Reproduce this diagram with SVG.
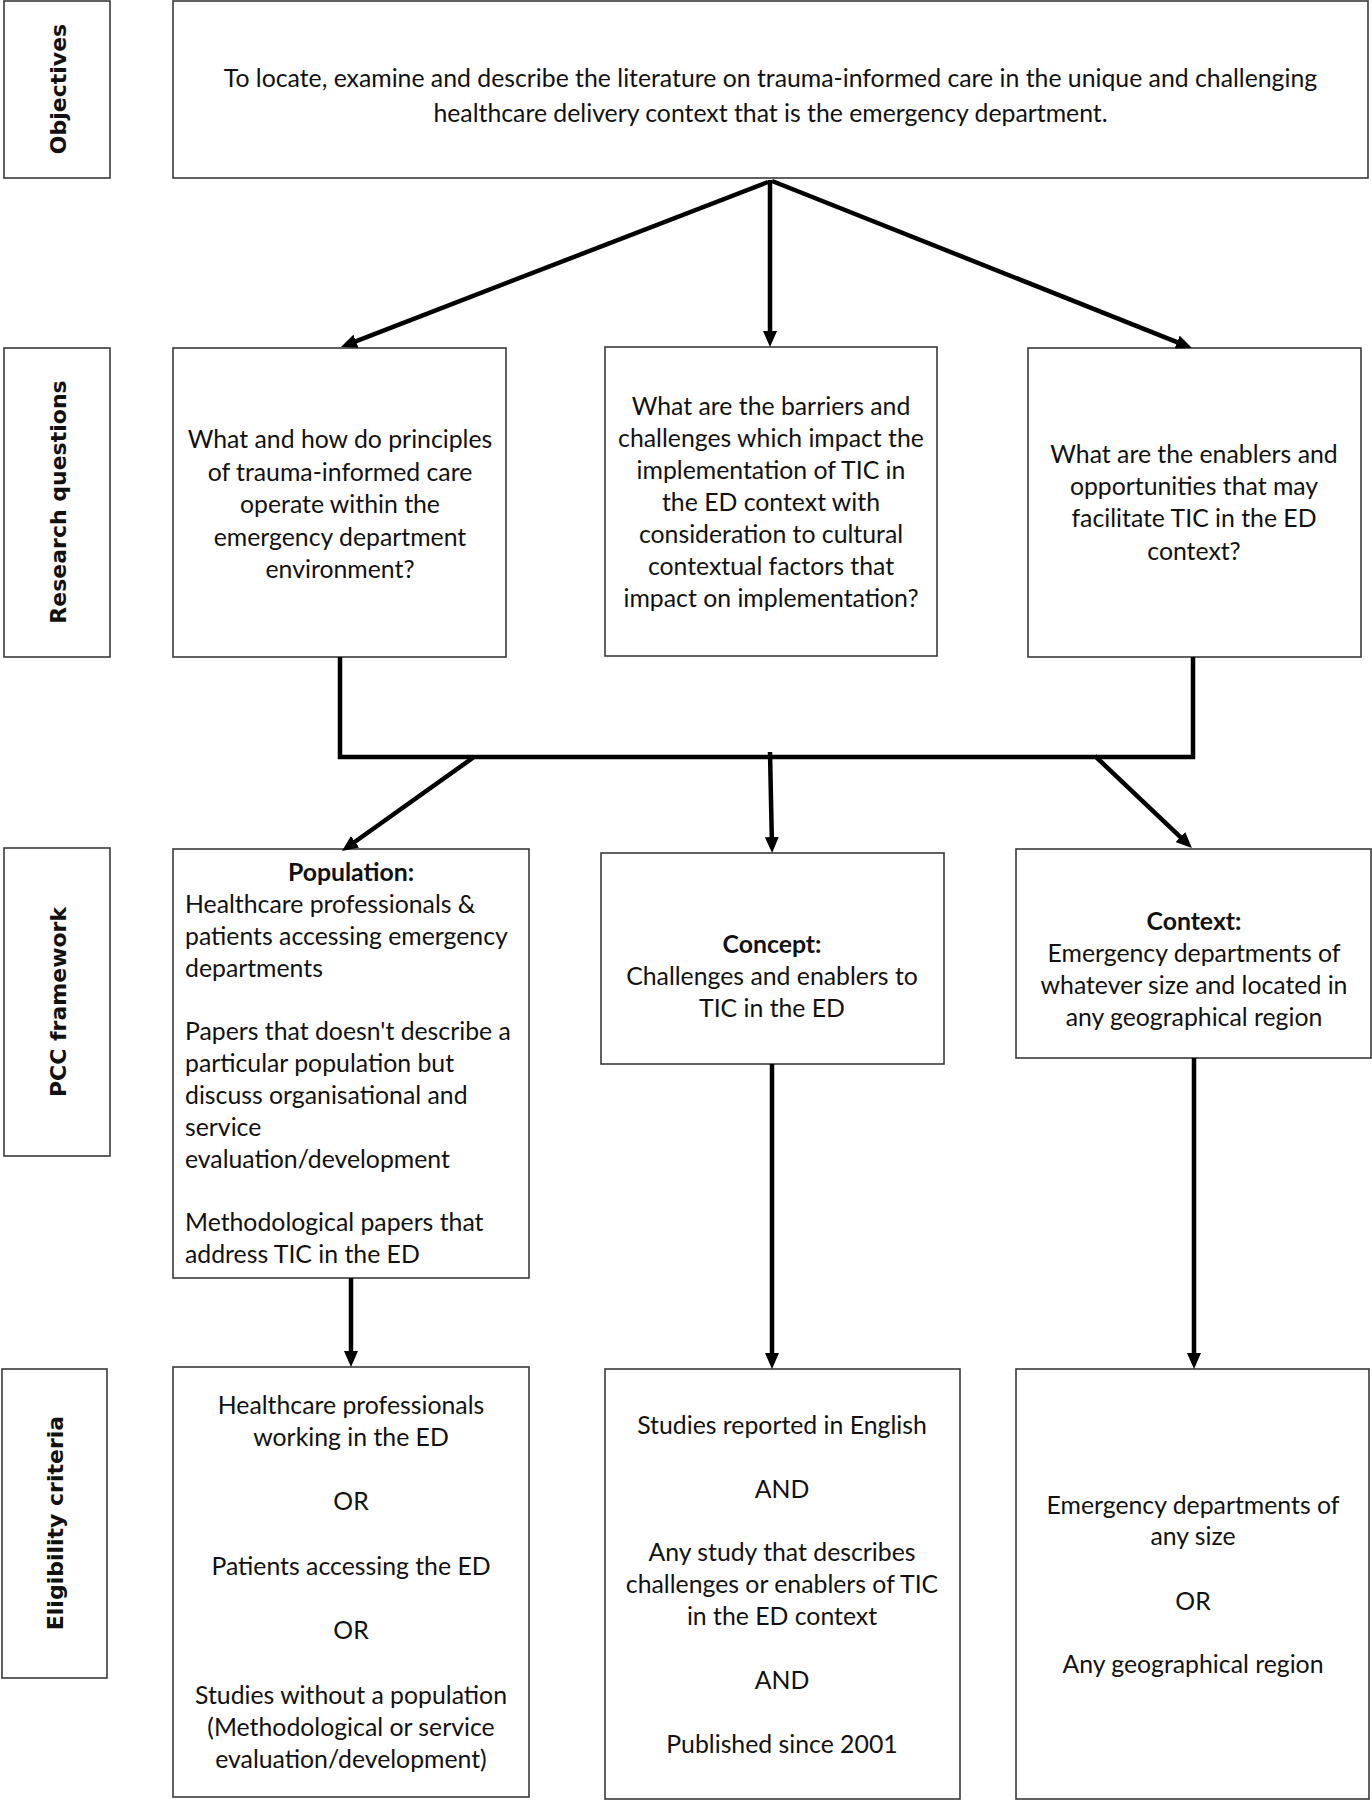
<svg xmlns="http://www.w3.org/2000/svg" width="1372" height="1800" viewBox="0 0 1372 1800">
<style>
.box{fill:#fff;stroke:#3a3a3a;stroke-width:1.6}
.t{font-family:Lato,"Open Sans","Liberation Sans",sans-serif;font-size:24.8px;fill:#111;text-anchor:middle}
.l{text-anchor:start}
.b{font-weight:bold}
.lab{font-family:"DejaVu Sans","Liberation Sans",sans-serif;font-weight:bold;font-size:22px;fill:#111;text-anchor:middle}
.c{fill:none;stroke:#000;stroke-width:4.5}
</style>
<defs>
<marker id="ah" markerUnits="userSpaceOnUse" markerWidth="16" markerHeight="14" refX="10" refY="7" orient="auto">
<path d="M0,0 L16,7 L0,14 z" fill="#000"/>
</marker>
</defs>
<rect width="1372" height="1800" fill="#fff"/>

<g id="label-objectives">
<rect class="box" x="4" y="1" width="106" height="177"/>
<text class="lab" transform="translate(66,89) rotate(-90)">Objectives</text>
</g>
<g id="label-research">
<rect class="box" x="4" y="348" width="106" height="309"/>
<text class="lab" transform="translate(66,502) rotate(-90)">Research questions</text>
</g>
<g id="label-pcc">
<rect class="box" x="4" y="848" width="106" height="308"/>
<text class="lab" transform="translate(66,1002) rotate(-90)">PCC framework</text>
</g>
<g id="label-eligibility">
<rect class="box" x="2" y="1369" width="105" height="309"/>
<text class="lab" transform="translate(63,1523) rotate(-90)">Eligibility criteria</text>
</g>

<g id="objective">
<rect class="box" x="173" y="1" width="1195" height="177"/>
<text class="t" x="770.5" y="87">To locate, examine and describe the literature on trauma-informed care in the unique and challenging</text>
<text class="t" x="770.5" y="122">healthcare delivery context that is the emergency department.</text>
</g>

<g id="rq1">
<rect class="box" x="173" y="348" width="333" height="309"/>
<text class="t" x="340" y="448">What and how do principles</text>
<text class="t" x="340" y="481">of trauma-informed care</text>
<text class="t" x="340" y="513">operate within the</text>
<text class="t" x="340" y="546">emergency department</text>
<text class="t" x="340" y="578">environment?</text>
</g>
<g id="rq2">
<rect class="box" x="605" y="347" width="332" height="309"/>
<text class="t" x="771" y="415">What are the barriers and</text>
<text class="t" x="771" y="447">challenges which impact the</text>
<text class="t" x="771" y="479">implementation of TIC in</text>
<text class="t" x="771" y="511">the ED context with</text>
<text class="t" x="771" y="543">consideration to cultural</text>
<text class="t" x="771" y="575">contextual factors that</text>
<text class="t" x="771" y="607">impact on implementation?</text>
</g>
<g id="rq3">
<rect class="box" x="1028" y="348" width="333" height="309"/>
<text class="t" x="1194" y="463">What are the enablers and</text>
<text class="t" x="1194" y="495">opportunities that may</text>
<text class="t" x="1194" y="527">facilitate TIC in the ED</text>
<text class="t" x="1194" y="560">context?</text>
</g>

<g id="pcc-population">
<rect class="box" x="173" y="849" width="356" height="429"/>
<text class="t b" x="351" y="881">Population:</text>
<text class="t l" x="185" y="913">Healthcare professionals &amp;</text>
<text class="t l" x="185" y="945">patients accessing emergency</text>
<text class="t l" x="185" y="977">departments</text>
<text class="t l" x="185" y="1040">Papers that doesn't describe a</text>
<text class="t l" x="185" y="1072">particular population but</text>
<text class="t l" x="185" y="1104">discuss organisational and</text>
<text class="t l" x="185" y="1136">service</text>
<text class="t l" x="185" y="1168">evaluation/development</text>
<text class="t l" x="185" y="1231">Methodological papers that</text>
<text class="t l" x="185" y="1263">address TIC in the ED</text>
</g>
<g id="pcc-concept">
<rect class="box" x="601" y="853" width="343" height="211"/>
<text class="t b" x="772" y="953">Concept:</text>
<text class="t" x="772" y="985">Challenges and enablers to</text>
<text class="t" x="772" y="1017">TIC in the ED</text>
</g>
<g id="pcc-context">
<rect class="box" x="1016" y="849" width="355" height="209"/>
<text class="t b" x="1194" y="930">Context:</text>
<text class="t" x="1194" y="962">Emergency departments of</text>
<text class="t" x="1194" y="994">whatever size and located in</text>
<text class="t" x="1194" y="1026">any geographical region</text>
</g>

<g id="elig-population">
<rect class="box" x="173" y="1367" width="356" height="430"/>
<text class="t" x="351" y="1414">Healthcare professionals</text>
<text class="t" x="351" y="1446">working in the ED</text>
<text class="t" x="351" y="1510">OR</text>
<text class="t" x="351" y="1575">Patients accessing the ED</text>
<text class="t" x="351" y="1639">OR</text>
<text class="t" x="351" y="1704">Studies without a population</text>
<text class="t" x="351" y="1736">(Methodological or service</text>
<text class="t" x="351" y="1768">evaluation/development)</text>
</g>
<g id="elig-concept">
<rect class="box" x="605" y="1369" width="355" height="430"/>
<text class="t" x="782" y="1434">Studies reported in English</text>
<text class="t" x="782" y="1498">AND</text>
<text class="t" x="782" y="1561">Any study that describes</text>
<text class="t" x="782" y="1593">challenges or enablers of TIC</text>
<text class="t" x="782" y="1625">in the ED context</text>
<text class="t" x="782" y="1689">AND</text>
<text class="t" x="782" y="1753">Published since 2001</text>
</g>
<g id="elig-context">
<rect class="box" x="1016" y="1369" width="353" height="430"/>
<text class="t" x="1193" y="1514">Emergency departments of</text>
<text class="t" x="1193" y="1545">any size</text>
<text class="t" x="1193" y="1610">OR</text>
<text class="t" x="1193" y="1673">Any geographical region</text>
</g>

<g id="connectors">
<line class="c" x1="768" y1="182" x2="346.6" y2="344.8" marker-end="url(#ah)"/>
<line class="c" x1="770" y1="180" x2="770" y2="341" marker-end="url(#ah)"/>
<line class="c" x1="772" y1="181" x2="1186.4" y2="345.8" marker-end="url(#ah)"/>
<polyline class="c" points="340,657 340,757 1193,757 1193,657"/>
<line class="c" x1="474" y1="757" x2="346.9" y2="847.5" marker-end="url(#ah)"/>
<line class="c" x1="770" y1="752" x2="772" y2="847" marker-end="url(#ah)"/>
<line class="c" x1="1095" y1="756" x2="1187.6" y2="843.9" marker-end="url(#ah)"/>
<line class="c" x1="351" y1="1278" x2="351" y2="1361" marker-end="url(#ah)"/>
<line class="c" x1="772" y1="1064" x2="772" y2="1363" marker-end="url(#ah)"/>
<line class="c" x1="1194" y1="1058" x2="1194" y2="1363" marker-end="url(#ah)"/>
</g>
</svg>
